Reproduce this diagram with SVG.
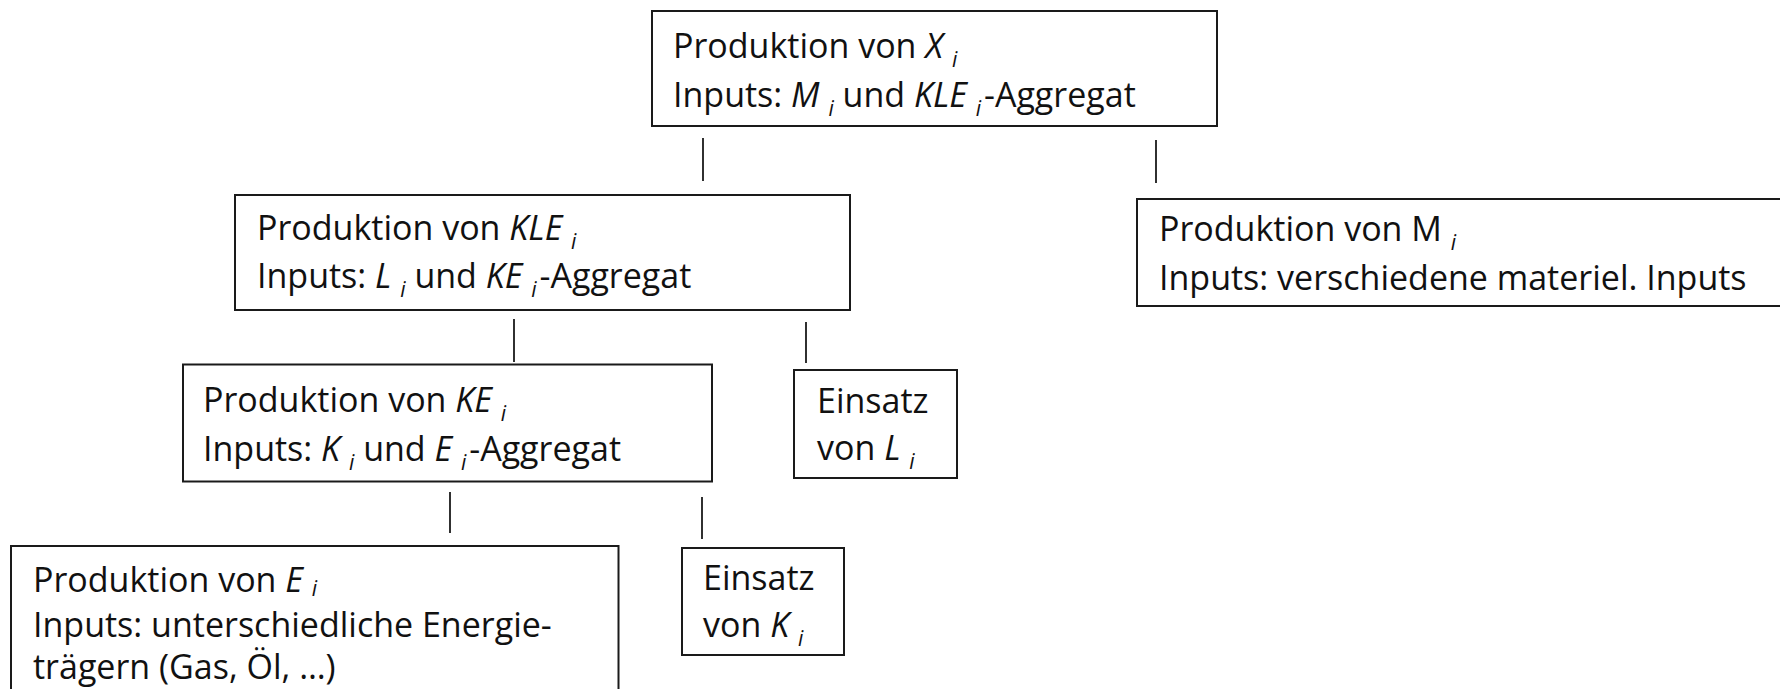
<svg xmlns="http://www.w3.org/2000/svg" width="1780" height="689" viewBox="0 0 1780 689">
<style>
rect.box{fill:#fff;stroke:#1a1a1a;stroke-width:2}
text{font-family:"Open Sans","Noto Sans","DejaVu Sans",sans-serif;font-size:34px;fill:#111}
.it{font-style:italic}
.sub{font-style:italic;font-size:21px}
#connectors line{stroke:#1a1a1a;stroke-width:1.8}
</style>
<rect width="1780" height="689" fill="#fff"/>
<g id="connectors">
<line x1="703" y1="138" x2="703" y2="181"/>
<line x1="1156" y1="140" x2="1156" y2="183"/>
<line x1="514" y1="319" x2="514" y2="362"/>
<line x1="806" y1="322" x2="806" y2="363"/>
<line x1="450" y1="492" x2="450" y2="533"/>
<line x1="702" y1="497" x2="702" y2="539"/>
</g>
<g id="node-x">
<rect class="box" x="652" y="11" width="565" height="115"/>
<text><tspan x="673" y="58">Produktion von </tspan><tspan class="it">X</tspan> <tspan class="sub" dy="9">i</tspan><tspan x="673" y="107">Inputs: </tspan><tspan class="it">M</tspan> <tspan class="sub" dy="9">i</tspan><tspan dy="-9"> und </tspan><tspan class="it">KLE</tspan> <tspan class="sub" dy="9">i</tspan><tspan dy="-9" dx="3">-Aggregat</tspan></text>
</g>
<g id="node-kle">
<rect class="box" x="235" y="195" width="615" height="115"/>
<text><tspan x="257" y="240">Produktion von </tspan><tspan class="it">KLE</tspan> <tspan class="sub" dy="9">i</tspan><tspan x="257" y="288">Inputs: </tspan><tspan class="it">L</tspan> <tspan class="sub" dy="9">i</tspan><tspan dy="-9"> und </tspan><tspan class="it">KE</tspan> <tspan class="sub" dy="9">i</tspan><tspan dy="-9" dx="3">-Aggregat</tspan></text>
</g>
<g id="node-m">
<rect class="box" x="1137" y="199" width="660" height="107"/>
<text><tspan x="1159" y="241">Produktion von M </tspan><tspan class="sub" dy="9">i</tspan><tspan x="1159" y="290">Inputs: verschiedene materiel. Inputs</tspan></text>
</g>
<g id="node-ke">
<rect class="box" x="183" y="364.5" width="529" height="117"/>
<text><tspan x="203" y="412">Produktion von </tspan><tspan class="it">KE</tspan> <tspan class="sub" dy="9">i</tspan><tspan x="203" y="461">Inputs: </tspan><tspan class="it">K</tspan> <tspan class="sub" dy="9">i</tspan><tspan dy="-9"> und </tspan><tspan class="it">E</tspan> <tspan class="sub" dy="9">i</tspan><tspan dy="-9" dx="3">-Aggregat</tspan></text>
</g>
<g id="node-l">
<rect class="box" x="794" y="370" width="163" height="108"/>
<text><tspan x="817" y="413">Einsatz</tspan><tspan x="817" y="460">von </tspan><tspan class="it">L</tspan> <tspan class="sub" dy="9">i</tspan></text>
</g>
<g id="node-k">
<rect class="box" x="682" y="548" width="162" height="107"/>
<text><tspan x="703" y="590">Einsatz</tspan><tspan x="703" y="637">von </tspan><tspan class="it">K</tspan> <tspan class="sub" dy="9">i</tspan></text>
</g>
<g id="node-e">
<rect class="box" x="11" y="546" width="607.5" height="160"/>
<text><tspan x="33" y="592">Produktion von </tspan><tspan class="it">E</tspan> <tspan class="sub" dy="4">i</tspan><tspan x="33" y="637">Inputs: unterschiedliche Energie-</tspan><tspan x="33" y="679">trägern (Gas, Öl, …)</tspan></text>
</g>
</svg>
